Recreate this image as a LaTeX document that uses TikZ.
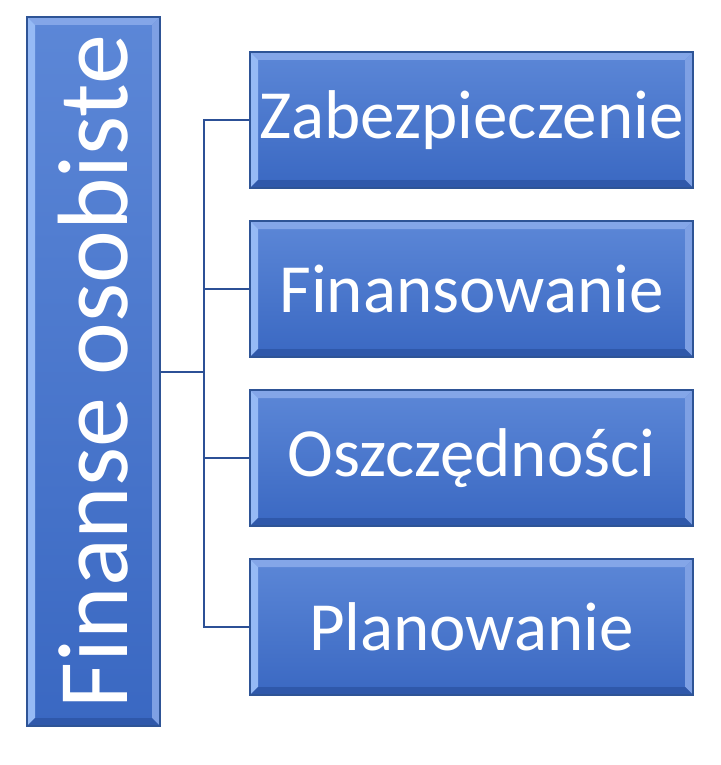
\documentclass[tikz,border=0pt]{standalone}
\usepackage{fontspec}
\setmainfont{Carlito}
\usepackage{tikz}
\usetikzlibrary{math}
\definecolor{BoxTop}{RGB}{92,135,215}
\definecolor{BoxBottom}{RGB}{58,104,194}
\definecolor{BoxEdge}{RGB}{46,84,150}
\definecolor{BevelTop}{RGB}{132,166,232}
\definecolor{BevelLeft}{RGB}{150,186,245}
\definecolor{BevelRight}{RGB}{126,160,228}
\definecolor{BevelBottom}{RGB}{47,88,170}
\definecolor{LineBlue}{RGB}{44,80,150}
\newcommand\bigtext{\fontsize{50pt}{60pt}\selectfont}
\newcommand\boxtext{\fontsize{34.5pt}{40pt}\selectfont}
\tikzset{%
  blok/.style={draw=BoxEdge, line width=0.7pt, top color=BoxTop, bottom color=BoxBottom,
    text=white, font=\boxtext, inner sep=0pt,
    path picture={
      \coordinate (nw) at (path picture bounding box.north west);
      \coordinate (se) at (path picture bounding box.south east);
      \fill[BevelTop] (nw) -- (nw -| se) -- ([xshift=-4pt,yshift=-4pt]nw -| se) -- ([xshift=4pt,yshift=-4pt]nw) -- cycle;
      \fill[BevelLeft] (nw) -- ([xshift=4pt,yshift=-4pt]nw) -- ([xshift=4pt,yshift=4pt]nw |- se) -- (nw |- se) -- cycle;
      \fill[BevelRight] (nw -| se) -- (se) -- ([xshift=-4pt,yshift=4pt]se) -- ([xshift=-4pt,yshift=-4pt]nw -| se) -- cycle;
      \fill[BevelBottom] (nw |- se) -- (se) -- ([xshift=-4pt,yshift=4pt]se) -- ([xshift=4pt,yshift=4pt]nw |- se) -- cycle;
    }},
  linia/.style={draw=LineBlue, line width=1pt}
}
\begin{document}
\begin{tikzpicture}[x=0.5pt,y=-0.5pt]
    \tikzmath{
      \xl=93.5;
      \yl=371.5;
      \xr=471.5;
      \xs=204;
    }
    \useasboundingbox (0,0) rectangle (720,765);
    \node[blok, minimum width=66.5pt, minimum height=354.5pt, font=\bigtext] (finanse) at (\xl,\yl) {\rotatebox{90}{Finanse osobiste}};
    \coordinate (rozgalezienie) at (\xs,\yl);
    \draw[linia] (finanse.east) -- (rozgalezienie);
    \foreach \n/\y/\t in {zab/120/Zabezpieczenie, fin/289/Finansowanie, osz/458/Oszczędności, pla/627/Planowanie} {
      \draw[linia] (rozgalezienie) |- (\xr-110,\y);
      \node[blok, minimum width=221.5pt, minimum height=68pt] (\n) at (\xr,\y) {\t};
    }
  \end{tikzpicture}
\end{document}
